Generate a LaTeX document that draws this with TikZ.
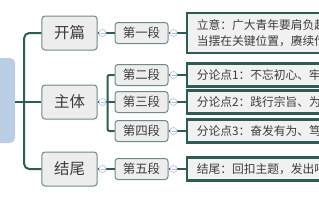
\documentclass[tikz,border=0pt]{standalone}
\usepackage{fontspec}
\setmainfont{Noto Sans CJK SC}
\usetikzlibrary{positioning, calc}
\definecolor{rootc}{HTML}{BACDE4}
\definecolor{boxc}{HTML}{EDEDED}
\definecolor{edgec}{HTML}{6D8A85}
\definecolor{ptc}{HTML}{F1F1F1}
\definecolor{trunkc}{HTML}{2D5C55}
\definecolor{foldc}{HTML}{AEBDE3}
\definecolor{txtc}{HTML}{3C3C3C}

\begin{document}
\begin{tikzpicture}[
  x=1bp, y=-1bp,
  every node/.style={font=\fontsize{12.5}{15}\selectfont, text=txtc},
  root/.style  = {fill=rootc, rounded corners=5bp, minimum width=25bp, minimum height=85bp, inner sep=0pt},
  box/.style   = {draw=edgec, fill=boxc, line width=1bp, rounded corners=3bp, inner sep=0pt},
  part/.style  = {box, minimum width=55bp, minimum height=34bp, font=\fontsize{15.5}{18}\selectfont},
  seg/.style   = {box, minimum width=53bp, minimum height=21bp},
  point/.style = {draw=trunkc, fill=ptc, line width=2.5bp, minimum width=170bp, minimum height=23bp,
                  text width=150bp, inner xsep=9bp, inner ysep=2bp, align=left, font=\fontsize{11.8}{16}\selectfont},
  fold/.style  = {circle, draw=foldc, fill=white, line width=0.6bp, minimum size=7bp, inner sep=0pt,
                  path picture={\draw[foldc, line width=0.6bp] ([xshift=-2bp]path picture bounding box.center) -- ([xshift=2bp]path picture bounding box.center);}},
  conn/.style  = {draw=trunkc, line width=2bp},
]
  \useasboundingbox (0,0) rectangle (319,200);
  \clip (0,0) rectangle (319,200);
  \node[root] (root) at (2.5,100.5) {};
  % first level
  \node[part] (kp) at (69.5,33)  {开篇};
  \node[part] (zt) at (69.5,102) {主体};
  \node[part] (jw) at (69.5,169) {结尾};
  % paragraphs
  \node[seg, right=17bp of kp] (d1) {第一段};
  \node[seg, right=17bp of zt] (d3) {第三段};
  \node[seg, above=5bp of d3]  (d2) {第二段};
  \node[seg, below=7bp of d3]  (d4) {第四段};
  \node[seg, right=17bp of jw] (d5) {第五段};
  % contents
  \node[point, minimum height=40bp, right=17bp of d1] (lz) {立意：广大青年要肩负起\\当摆在关键位置，赓续传};
  \node[point, right=17bp of d2] (p1) {分论点1：不忘初心、牢};
  \node[point, right=17bp of d3] (p2) {分论点2：践行宗旨、为};
  \node[point, right=17bp of d4] (p3) {分论点3：奋发有为、笃};
  \node[point, right=17bp of d5] (p5) {结尾：回扣主题，发出呼};
  % connectors
  \coordinate (trunk) at ($(root.east)+(9,0)$);
  \coordinate (br) at ($(zt.east)+(10,0)$);
  \draw[conn, rounded corners=5bp] (kp.west) -| (trunk) |- (jw.west);
  \draw[conn] (root.east |- zt) -- (zt);
  \draw[conn] (kp) -- (d1);
  \draw[conn] (jw) -- (d5);
  \draw[conn] (zt) -- (d3);
  \draw[conn, rounded corners=2bp] (d2.west) -| (br) |- (d4.west);
  \foreach \a/\b in {d1/lz,d2/p1,d3/p2,d4/p3,d5/p5}
     \draw[conn] (\a) -- (\b);
  \foreach \n in {kp,zt,jw,d1,d2,d3,d4,d5}
     \node[fold] (f-\n) at ($(\n.east)+(5,0)$) {};
\end{tikzpicture}
\end{document}
